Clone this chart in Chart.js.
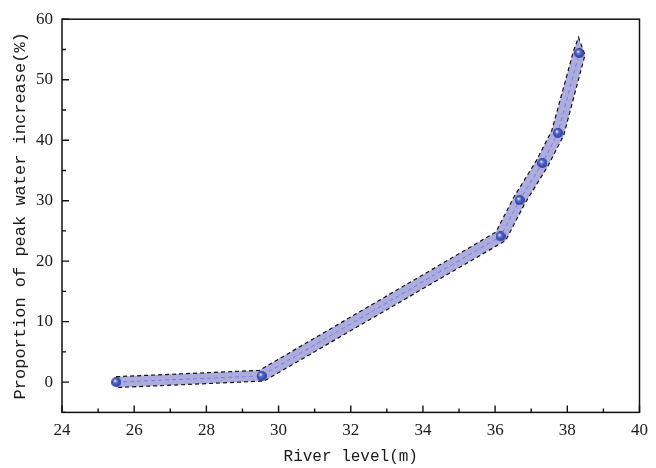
<!DOCTYPE html>
<html>
<head>
<meta charset="utf-8">
<script src="https://cdn.jsdelivr.net/npm/chart.js@4.4.0/dist/chart.umd.min.js"></script>
<style>
  html, body { margin: 0; padding: 0; background: #fff; }
  #wrap { width: 656px; height: 468px; }
</style>
</head>
<body>
<div id="wrap"><canvas id="river-chart" width="656" height="468"></canvas></div>
<script>
// Values
const riverLevel = [25.5, 29.53, 36.15, 36.68, 37.31, 37.74, 38.33];
const peakIncrease = [0, 1.04, 24.1, 30.1, 36.2, 41.2, 54.4];

// Shaded band: upper (left) edge up to the tip, then lower (right) edge
const bandUpperX = [25.5, 29.47, 36.02, 36.52, 37.15, 37.57, 38.17, 38.31];
const bandUpperY = [0.9, 1.95, 24.8, 30.6, 36.7, 41.6, 54.7, 57];
const bandLowerX = [25.5, 29.6, 36.29, 36.83, 37.46, 37.9, 38.49];
const bandLowerY = [-0.9, 0.18, 23.4, 29.6, 35.7, 40.8, 54.1];

// Axis ticks
const xTicks = [24, 26, 28, 30, 32, 34, 36, 38, 40];
const xMinor = [25, 27, 29, 31, 33, 35, 37, 39];
const yTicks = [0, 10, 20, 30, 40, 50, 60];
const yMinor = [-5, 5, 15, 25, 35, 45, 55];

const xTitle = 'River level(m)';
const yTitle = 'Proportion of peak water increase(%)';

// Build point lists
const centerPoints = riverLevel.map((x, i) => ({ x: x, y: peakIncrease[i] }));
const bandPoints = bandUpperX.map((x, i) => ({ x: x, y: bandUpperY[i] }))
    .concat(bandLowerX.map((x, i) => ({ x: x, y: bandLowerY[i] })).reverse());

// Small shaded ball used as the point marker
function makeBall(r) {
    const c = document.createElement('canvas');
    c.width = c.height = r * 2;
    const g = c.getContext('2d');
    const grad = g.createRadialGradient(r * 0.75, r * 0.7, r * 0.1, r, r, r);
    grad.addColorStop(0, '#e8ecff');
    grad.addColorStop(0.3, '#5a6cd0');
    grad.addColorStop(1, '#2a3a9c');
    g.fillStyle = grad;
    g.beginPath();
    g.arc(r, r, r, 0, Math.PI * 2);
    g.fill();
    return c;
}
const ball = makeBall(5);

// Frame and inward ticks
const framePlugin = {
    id: 'frame',
    afterDatasetsDraw(chart) {
        const ctx = chart.ctx;
        const a = chart.chartArea;
        const xs = chart.scales.x;
        const ys = chart.scales.y;
        ctx.save();
        ctx.strokeStyle = '#111';
        ctx.lineWidth = 1.5;
        ctx.strokeRect(a.left, a.top, a.right - a.left, a.bottom - a.top);
        ctx.lineWidth = 1.4;
        ctx.beginPath();
        xTicks.forEach(v => {
            const px = xs.getPixelForValue(v);
            ctx.moveTo(px, a.bottom); ctx.lineTo(px, a.bottom - 7);
        });
        xMinor.forEach(v => {
            const px = xs.getPixelForValue(v);
            ctx.moveTo(px, a.bottom); ctx.lineTo(px, a.bottom - 4);
        });
        yTicks.forEach(v => {
            const py = ys.getPixelForValue(v);
            ctx.moveTo(a.left, py); ctx.lineTo(a.left + 7, py);
        });
        yMinor.forEach(v => {
            const py = ys.getPixelForValue(v);
            ctx.moveTo(a.left, py); ctx.lineTo(a.left + 4, py);
        });
        ctx.stroke();
        ctx.restore();
    }
};

const tickFont = { family: '"Liberation Serif", "DejaVu Serif", serif', size: 17 };
const xTitleFont = { family: '"Liberation Mono", "DejaVu Sans Mono", monospace', size: 16 };
const yTitleFont = { family: '"Liberation Mono", "DejaVu Sans Mono", monospace', size: 17 };

new Chart(document.getElementById('river-chart'), {
    type: 'scatter',
    data: {
        datasets: [
            {
                label: 'center',
                data: centerPoints,
                showLine: true,
                borderColor: 'rgba(110, 120, 210, 0.85)',
                borderWidth: 1,
                borderDash: [4, 3],
                pointStyle: ball,
                pointRadius: 5,
                order: 1
            },
            {
                label: 'band',
                data: bandPoints,
                showLine: true,
                indexAxis: 'y',
                fill: 'shape',
                backgroundColor: '#acacdf',
                borderColor: '#111',
                borderWidth: 1.2,
                borderDash: [4, 3],
                pointRadius: 0,
                order: 2
            }
        ]
    },
    options: {
        responsive: false,
        animation: false,
        layout: { padding: { top: 13, right: 16, left: 0, bottom: 0 } },
        plugins: {
            legend: { display: false },
            tooltip: { enabled: false }
        },
        scales: {
            x: {
                type: 'linear',
                min: 24,
                max: 40,
                afterBuildTicks: s => { s.ticks = xTicks.map(v => ({ value: v })); },
                afterFit: s => { s.height = 55.6; },
                grid: { display: false, drawTicks: false },
                border: { display: false },
                ticks: { font: tickFont, color: '#1a1a1a', padding: 8, maxRotation: 0 },
                title: { display: true, text: xTitle, font: xTitleFont, color: '#1a1a1a', padding: { top: 0, bottom: 2 } }
            },
            y: {
                type: 'linear',
                min: -5,
                max: 60,
                afterBuildTicks: s => { s.ticks = yTicks.map(v => ({ value: v })); },
                afterFit: s => { s.width = 62; },
                grid: { display: false, drawTicks: false },
                border: { display: false },
                ticks: { font: tickFont, color: '#1a1a1a', padding: 9 },
                title: { display: true, text: yTitle, font: yTitleFont, color: '#1a1a1a', padding: { top: 10, bottom: 0 } }
            }
        }
    },
    plugins: [framePlugin]
});
</script>
</body>
</html>
